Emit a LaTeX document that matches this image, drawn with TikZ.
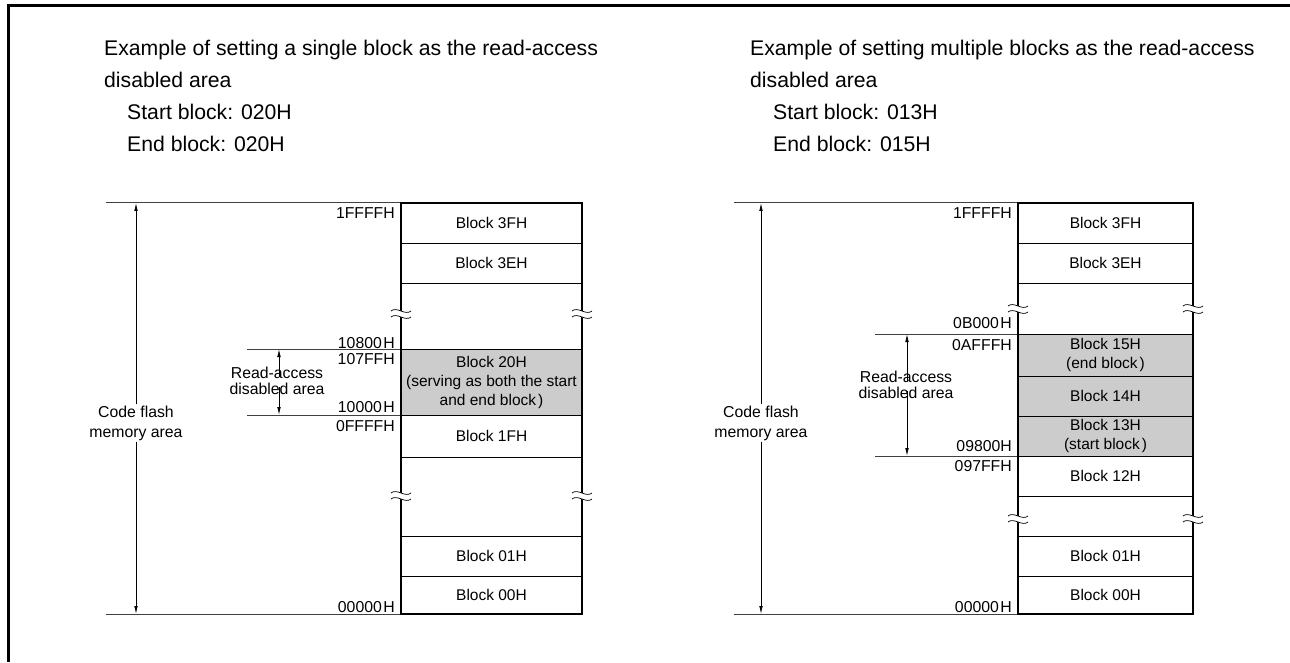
\documentclass[tikz,border=0pt]{standalone}
\usepackage{fontspec}
\setmainfont{Liberation Sans}
\usetikzlibrary{arrows.meta}
\newcommand\brkmark[2]{%
  \fill[white] (#1-10,#2-2) .. controls (#1-4,#2-7) and (#1+4,#2+3) .. (#1+10,#2-2)
     -- (#1+10,#2+4) .. controls (#1+4,#2+9) and (#1-4,#2-1) .. (#1-10,#2+4) -- cycle;
  \draw[line width=0.7pt] (#1-10,#2-2) .. controls (#1-4,#2-7) and (#1+4,#2+3) .. (#1+10,#2-2);
  \draw[line width=0.7pt] (#1-10,#2+4) .. controls (#1-4,#2-1) and (#1+4,#2+9) .. (#1+10,#2+4);
}
\begin{document}
\begin{tikzpicture}[x=1pt,y=-1pt,
  ttl/.style={anchor=base west,inner sep=0pt,font=\fontsize{21.2}{24}\selectfont},
  blk/.style={draw,line width=0.8pt,inner sep=0pt,align=center,font=\fontsize{15.5}{19}\selectfont},
  lblk/.style={blk,minimum width=181pt},
  rblk/.style={blk,minimum width=175pt},
  shaded/.style={fill=gray!40},
  addr/.style={anchor=east,inner sep=0pt,font=\fontsize{15.8}{19}\selectfont},
  side/.style={align=center,inner sep=1pt,font=\fontsize{15.8}{20}\selectfont},
  boxline/.style={line width=2.2pt},
  extline/.style={line width=1pt,black!75},
  dim/.style={line width=0.8pt,-{Latex[length=8pt,width=3.6pt]}}
]
\useasboundingbox (0,0) rectangle (1290,663);
% frame
\draw[line width=3pt] (1290,5.5) -- (8.5,5.5) -- (8.5,662);

% ---------- titles ----------
\node[ttl] (t1) at (104,56) {Example of setting a single block as the read-access};
\node[ttl] (t2) at (104,88) {disabled area};
\node[ttl] (t3) at (127,120) {Start block: 020H};
\node[ttl] (t4) at (127,152) {End block: 020H};
\node[ttl] (u1) at (750,56) {Example of setting multiple blocks as the read-access};
\node[ttl] (u2) at (750,88) {disabled area};
\node[ttl] (u3) at (773,120) {Start block: 013H};
\node[ttl] (u4) at (773,152) {End block: 015H};

% ---------- left diagram ----------
\draw[extline] (106,203) -- (401,203);
\draw[extline] (106,614) -- (401,614);
\draw[extline] (247,349) -- (401,349);
\draw[extline] (247,415) -- (401,415);

\node[lblk,minimum height=40pt] (L3F) at (491.5,223) {Block 3FH};
\node[lblk,minimum height=40pt] (L3E) at (491.5,263) {Block 3EH};
\node[lblk,shaded,minimum height=66pt] (L20) at (491.5,382) {Block 20H\\(serving as both the start\\and end block\kern2pt)};
\node[lblk,minimum height=42pt] (L1F) at (491.5,436) {Block 1FH};
\node[lblk,minimum height=40pt] (L01) at (491.5,556) {Block 01H};
\node[lblk,minimum height=38pt] (L00) at (491.5,595) {Block 00H};
\draw[boxline] (401,203) rectangle (582,614);
\brkmark{401}{313}\brkmark{582}{313}
\brkmark{401}{495}\brkmark{582}{495}

\node[addr] (a1) at (395,213) {1FFFFH};
\node[addr] (a2) at (395,343) {10800\kern1.5pt H};
\node[addr] (a3) at (395,359) {107FFH};
\node[addr] (a4) at (395,407) {10000\kern1.5pt H};
\node[addr] (a5) at (395,426) {0FFFFH};
\node[addr] (a6) at (395,607) {00000\kern1.5pt H};

\node[side] (cfL) at (136,423) {Code flash\\memory area};
\coordinate (cfLt) at (136,203);
\coordinate (cfLb) at (136,614);
\draw[dim] (cfL.north) -- (cfLt);
\draw[dim] (cfL.south) -- (cfLb);

\node[side,inner sep=0pt,font=\fontsize{15.8}{16}\selectfont] (raL) at (277,381) {Read-access\\disabled area};
\coordinate (raLt) at (279,349);
\coordinate (raLb) at (279,415);
\draw[dim] ([yshift=-10pt]raL.north -| raLt) -- (raLt);
\draw[dim] ([yshift=8pt]raL.south -| raLb) -- (raLb);

% ---------- right diagram ----------
\draw[extline] (734,203) -- (1018,203);
\draw[extline] (734,614) -- (1018,614);
\draw[extline] (875,334) -- (1018,334);
\draw[extline] (875,456) -- (1018,456);

\node[rblk,minimum height=40pt] (R3F) at (1105.5,223) {Block 3FH};
\node[rblk,minimum height=40pt] (R3E) at (1105.5,263) {Block 3EH};
\node[rblk,shaded,minimum height=42pt] (R15) at (1105.5,355) {Block 15H\\(end block\kern2pt)};
\node[rblk,shaded,minimum height=40pt] (R14) at (1105.5,396) {Block 14H};
\node[rblk,shaded,minimum height=40pt] (R13) at (1105.5,436) {Block 13H\\(start block\kern2pt)};
\node[rblk,minimum height=40pt] (R12) at (1105.5,476) {Block 12H};
\node[rblk,minimum height=40pt] (R01) at (1105.5,556) {Block 01H};
\node[rblk,minimum height=38pt] (R00) at (1105.5,595) {Block 00H};
\draw[boxline] (1018,203) rectangle (1193,614);
\brkmark{1018}{308}\brkmark{1193}{308}
\brkmark{1018}{518}\brkmark{1193}{518}

\node[addr] (b1) at (1012,213) {1FFFFH};
\node[addr] (b2) at (1012,323) {0B000\kern1.5pt H};
\node[addr] (b3) at (1012,345) {0AFFFH};
\node[addr] (b4) at (1012,446) {09800H};
\node[addr] (b5) at (1012,466) {097FFH};
\node[addr] (b6) at (1012,607) {00000\kern1.5pt H};

\node[side] (cfR) at (761,423) {Code flash\\memory area};
\coordinate (cfRt) at (761,203);
\coordinate (cfRb) at (761,614);
\draw[dim] (cfR.north) -- (cfRt);
\draw[dim] (cfR.south) -- (cfRb);

\node[side,inner sep=0pt,font=\fontsize{15.8}{16}\selectfont] (raR) at (906,385) {Read-access\\disabled area};
\coordinate (raRt) at (907,334);
\coordinate (raRb) at (907,456);
\draw[dim] ([yshift=-10pt]raR.north -| raRt) -- (raRt);
\draw[dim] ([yshift=8pt]raR.south -| raRb) -- (raRb);
\end{tikzpicture}
\end{document}
